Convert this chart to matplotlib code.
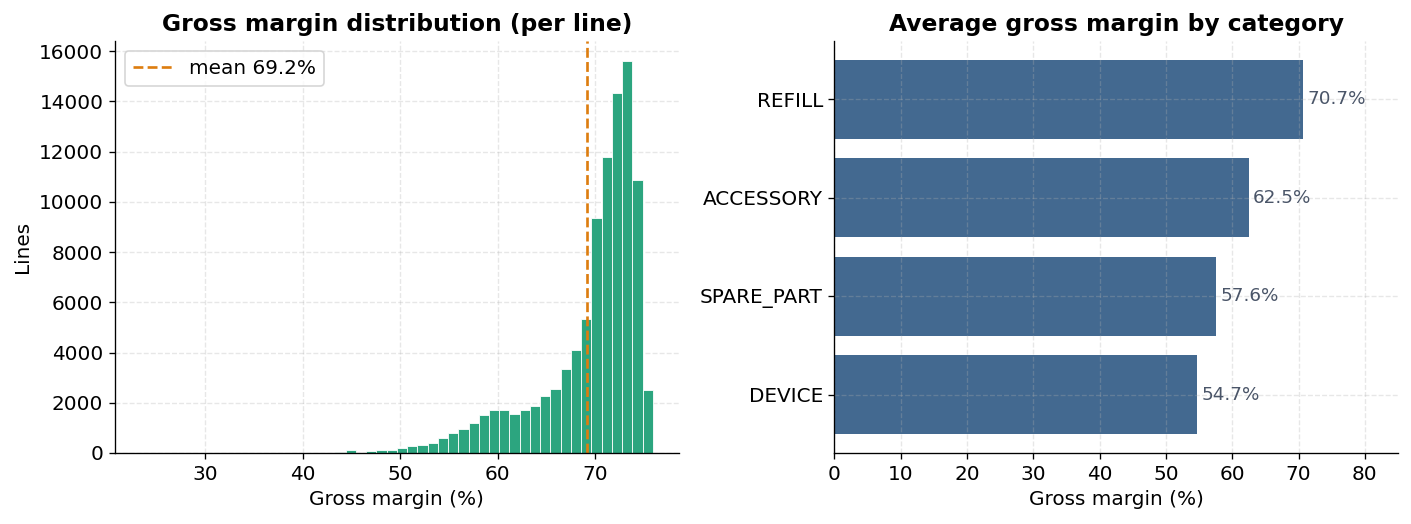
import numpy as np
import matplotlib
matplotlib.use("Agg")
import matplotlib.pyplot as plt

# histogram of gross margin per line (50 bins, 23.34 .. 75.94)
bin_lo = 23.34
bin_hi = 75.94
n_bins = 50
counts = [2, 0, 0, 0, 0, 1, 0, 0, 0, 1, 0, 0, 1, 0, 2, 0, 3, 5, 10,
          50, 100, 15, 80, 130, 130, 185, 265, 330, 410, 585, 785, 945,
          1210, 1530, 1700, 1730, 1570, 1700, 1890, 2250, 2540, 3325,
          4080, 5320, 9350, 11800, 14310, 15610, 10870, 2490]
mean_margin = 69.2

# average margin by category
categories = ["DEVICE", "SPARE_PART", "ACCESSORY", "REFILL"]
avg_margin = [54.7, 57.6, 62.5, 70.7]

edges = np.linspace(bin_lo, bin_hi, n_bins + 1)
centers = (edges[:-1] + edges[1:]) / 2

fig, (ax1, ax2) = plt.subplots(1, 2, figsize=(1411/120, 524/120), dpi=120)
fig.subplots_adjust(left=0.0815, right=0.9908, top=0.9218, bottom=0.1355, wspace=0.2766)

# left: histogram
ax1.hist(centers, bins=edges, weights=counts, color="#2ca57f", edgecolor="white", linewidth=0.5)
ax1.axvline(mean_margin, color="#dd7d0f", linestyle="--", linewidth=1.6, label=f"mean {mean_margin:.1f}%")
ax1.set_title("Gross margin distribution (per line)", fontsize=14, fontweight="bold")
ax1.set_xlabel("Gross margin (%)", fontsize=12)
ax1.set_ylabel("Lines", fontsize=12)
ax1.set_ylim(0, 16400)
ax1.grid(True, linestyle="--", color="#b0b0b0", linewidth=0.8, alpha=0.3)
ax1.set_axisbelow(True)
ax1.legend(loc="upper left", fontsize=12)
ax1.tick_params(labelsize=12)

# right: horizontal bars
bars = ax2.barh(categories, avg_margin, color="#436990", height=0.8)
for b, v in zip(bars, avg_margin):
    ax2.text(b.get_width() + 0.6, b.get_y() + b.get_height() / 2, f"{v:.1f}%",
             va="center", ha="left", fontsize=11, color="#4a5568")
ax2.set_xlim(0, 85)
ax2.set_title("Average gross margin by category", fontsize=14, fontweight="bold")
ax2.set_xlabel("Gross margin (%)", fontsize=12)
ax2.grid(True, linestyle="--", color="#b0b0b0", linewidth=0.8, alpha=0.3)
ax2.set_axisbelow(False)
ax2.tick_params(labelsize=12)

for ax in (ax1, ax2):
    ax.spines["top"].set_visible(False)
    ax.spines["right"].set_visible(False)
    ax.spines["left"].set_zorder(3)
    ax.spines["bottom"].set_zorder(3)

plt.savefig("out.png", dpi=120)
